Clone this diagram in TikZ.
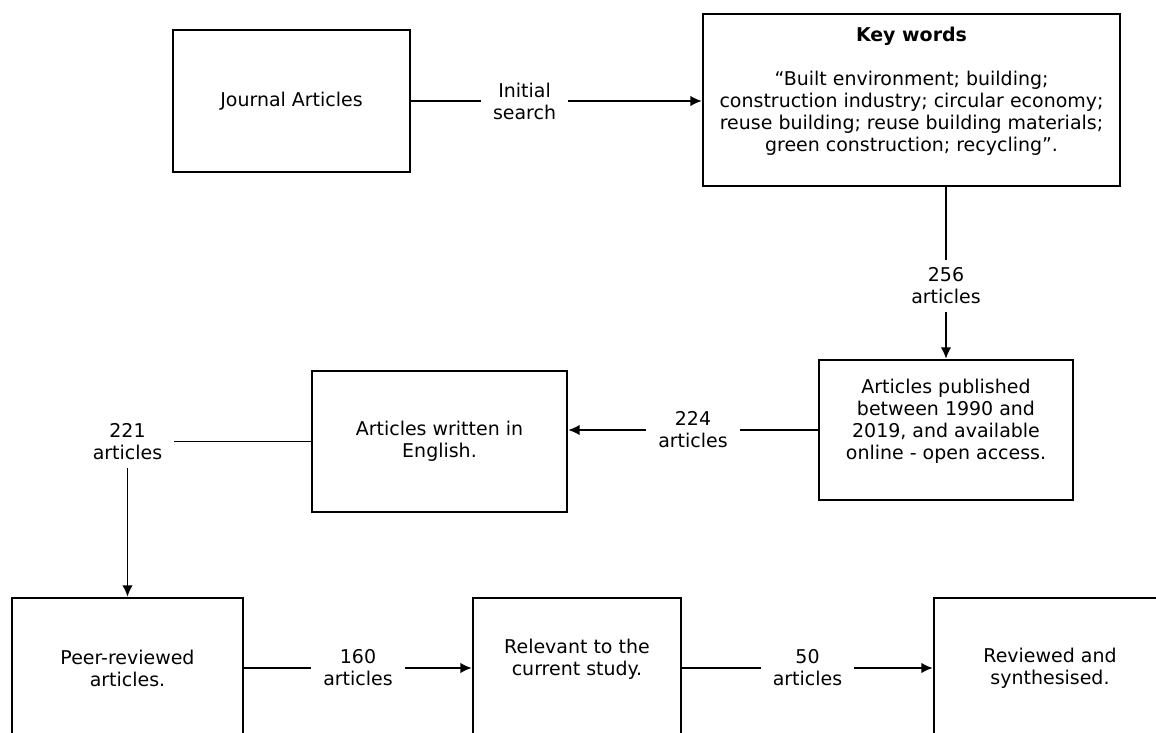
\documentclass[tikz,border=0pt]{standalone}
\usepackage{fontspec}
\setmainfont{DejaVu Sans}
\usepackage{tikz}
\usetikzlibrary{arrows.meta}

\tikzset{
  box/.style={draw, line width=1.5pt, align=center, inner sep=0pt,
    font=\fontsize{10.8}{12.5}\selectfont},
  tag/.style={fill=white, align=center, inner xsep=0.24cm, inner ysep=0.16cm,
    font=\fontsize{10.8}{12.5}\selectfont},
  link/.style={->, line width=0.85pt}
}

\begin{document}
\begin{tikzpicture}[>={Latex[length=6.5pt,width=6pt]}, x=0.02cm, y=-0.02cm]
    % Page frame
    \useasboundingbox (0,0) rectangle (1156,733);
    \clip (0,0) rectangle (1156,733);

    % Top row
    \node[box, minimum width=4.74cm, minimum height=2.84cm] (journal) at (291.5,101) {Journal Articles};
    \node[box, minimum width=8.34cm, minimum height=3.44cm] (keys) at (911.5,100)
        {\textbf{Key words}\\[12.5pt]
         “Built environment; building;\\
         construction industry; circular economy;\\
         reuse building; reuse building materials;\\
         green construction; recycling”.\\ \mbox{}};

    % Middle row
    \node[box, minimum width=5.08cm, minimum height=2.8cm] (pub) at (946,430)
        {Articles published\\between 1990 and\\2019, and available\\online - open access.\\ \mbox{}};
    \node[box, minimum width=5.1cm, minimum height=2.82cm] (eng) at (439.5,441.5) {Articles written in\\English.};

    % Bottom row (cut by the page edge)
    \node[box, minimum width=4.62cm, minimum height=2.8cm] (peer) at (127.5,668) {Peer-reviewed\\articles.};
    \node[box, minimum width=4.16cm, minimum height=2.8cm] (relevant) at (577,668) {Relevant to the\\current study.\\ \mbox{}};
    \node[box, minimum width=4.64cm, minimum height=2.8cm] (synth) at (1050,668) {Reviewed and\\synthesised.};

    % Connectors with counts
    \draw[link] (journal) -- node[tag, pos=.39] (initial) {Initial\\search} (journal -| keys.west);
    \draw[link] (keys.south -| pub.north) -- node[tag, pos=.575] (n256) {256\\articles} (pub.north);
    \draw[link] (pub.west) -- node[tag] (n224) {224\\articles} (pub.west -| eng.east);
    \draw[link] (eng.west) -| node[tag] (n221) {221\\articles} (peer.north);
    \draw[link] (peer) -- node[tag] (n160) {160\\articles} (relevant);
    \draw[link] (relevant) -- node[tag] (n50) {50\\articles} (synth);
\end{tikzpicture}
\end{document}
